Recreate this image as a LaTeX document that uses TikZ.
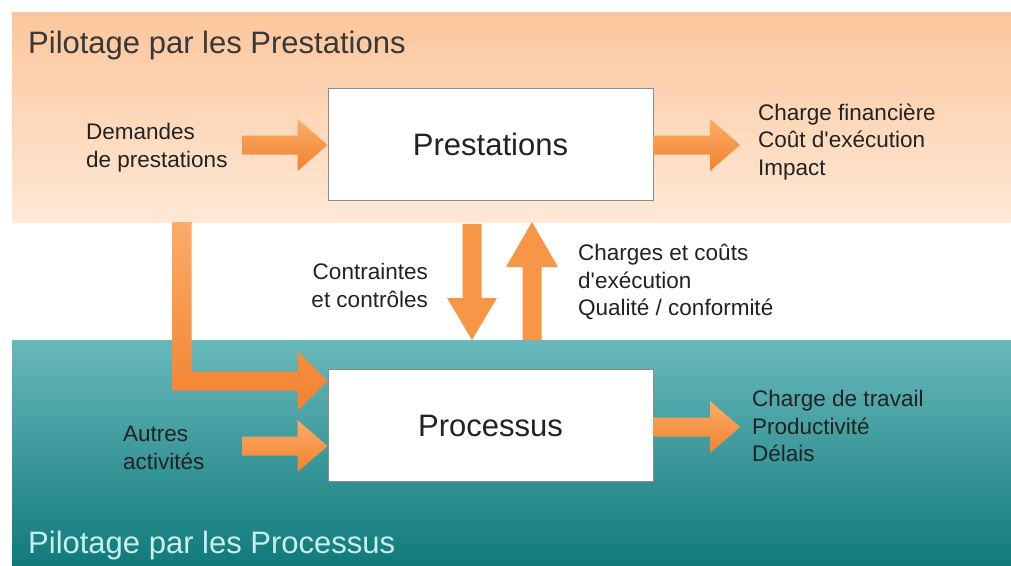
\documentclass[tikz,border=0pt]{standalone}
\usepackage{fontspec}
\setmainfont{Liberation Sans}
\usetikzlibrary{calc}

\definecolor{bandOrTop}{RGB}{251,198,156}
\definecolor{bandOrBot}{RGB}{254,233,214}
\definecolor{bandTeTop}{RGB}{104,184,188}
\definecolor{bandTeBot}{RGB}{17,122,122}
\definecolor{arrLight}{RGB}{251,172,104}
\definecolor{arrDark}{RGB}{242,130,46}
\definecolor{arrSide}{RGB}{248,150,72}
\definecolor{arrCore}{RGB}{238,116,28}
\definecolor{boxLine}{RGB}{140,140,140}
\definecolor{txtDark}{RGB}{34,34,34}
\definecolor{txtTeal}{RGB}{200,238,238}

\tikzset{
  procbox/.style={draw=boxLine, line width=0.9pt, fill=white,
    minimum width=325pt, minimum height=112pt, inner sep=0pt,
    font=\fontsize{31}{36}\selectfont, text=txtDark},
  label/.style={inner sep=0pt, text=txtDark, font=\fontsize{22.5}{27.5}\selectfont},
  bandtitle/.style={inner sep=0pt, anchor=base west, font=\fontsize{31}{35}\selectfont},
  harrow/.style={top color=arrLight, bottom color=arrDark, draw=none},
  varrow/.style={left color=arrSide, middle color=arrCore, right color=arrSide, draw=none},
}

% block arrows between named points
\newcommand{\rightblock}[2]{%
  \path[harrow] let \p1=(#1), \p2=(#2) in
    (\x1,\y1+9.5pt) -- (\x2-30pt,\y1+9.5pt) -- (\x2-30pt,\y1+26pt) -- (\x2,\y1)
    -- (\x2-30pt,\y1-26pt) -- (\x2-30pt,\y1-9.5pt) -- (\x1,\y1-9.5pt) -- cycle;}
\newcommand{\downblock}[2]{%
  \path[varrow] let \p1=(#1), \p2=(#2) in
    (\x1-9.5pt,\y1) -- (\x1-9.5pt,\y2+42pt) -- (\x1-25pt,\y2+42pt) -- (\x1,\y2)
    -- (\x1+25pt,\y2+42pt) -- (\x1+9.5pt,\y2+42pt) -- (\x1+9.5pt,\y1) -- cycle;}
\newcommand{\upblock}[2]{%
  \path[varrow] let \p1=(#1), \p2=(#2) in
    (\x1-9.5pt,\y1) -- (\x1-9.5pt,\y2-45pt) -- (\x1-26pt,\y2-45pt) -- (\x1,\y2)
    -- (\x1+26pt,\y2-45pt) -- (\x1+9.5pt,\y2-45pt) -- (\x1+9.5pt,\y1) -- cycle;}

\begin{document}
\begin{tikzpicture}[x=1pt, y=-1pt]
  \useasboundingbox (0,0) rectangle (1011,565);
  \fill[white] (0,0) rectangle (1011,565);

  % the two bands
  \path[top color=bandOrTop, bottom color=bandOrBot] (12,12) rectangle (1011,222);
  \path[top color=bandTeTop, bottom color=bandTeBot] (12,340) rectangle (1011,565);

  \node[bandtitle, text=txtDark!90] (ttop) at (28,53) {Pilotage par les Prestations};
  \node[bandtitle, text=txtTeal] (tbot) at (28,553) {Pilotage par les Processus};

  % the two boxes
  \node[procbox] (prest) at (490.5,144) {Prestations};
  \node[procbox] (proc) at (490.5,425.5) {Processus};

  % arrow ends
  \coordinate (demIn) at (242,145);
  \coordinate (prestOut) at (740,145);
  \coordinate (downTop) at (472,224);
  \coordinate (downTip) at (472,340);
  \coordinate (upFoot) at (532,340);
  \coordinate (upTip) at (532,222);
  \coordinate (lStart) at (182,222);
  \coordinate (lCorner) at (182,381);
  \coordinate (autIn) at (242,446);
  \coordinate (procOut) at (740,427);

  \rightblock{demIn}{demIn -| prest.west}
  \path[harrow] let \p1=(prest.east), \p2=(prestOut) in
    (\x1,\y2+9.5pt) -- (\x2-30pt,\y2+9.5pt) -- (\x2-30pt,\y2+26pt) -- (\x2,\y2)
    -- (\x2-30pt,\y2-26pt) -- (\x2-30pt,\y2-9.5pt) -- (\x1,\y2-9.5pt) -- cycle;
  \downblock{downTop}{downTip}
  \upblock{upFoot}{upTip}
  \rightblock{autIn}{autIn -| proc.west}
  \path[harrow] let \p1=(proc.east), \p2=(procOut) in
    (\x1,\y2+9.5pt) -- (\x2-30pt,\y2+9.5pt) -- (\x2-30pt,\y2+26pt) -- (\x2,\y2)
    -- (\x2-30pt,\y2-26pt) -- (\x2-30pt,\y2-9.5pt) -- (\x1,\y2-9.5pt) -- cycle;

  % bent arrow from the demands down to the processes
  \path[top color=arrLight, bottom color=arrDark]
    let \p1=(lStart), \p2=(lCorner), \p3=(lCorner -| proc.west) in
    (\x1-9.5pt,\y1) -- (\x1-9.5pt,\y2-9.5pt) -- (\x3-30pt,\y2-9.5pt) -- (\x3-30pt,\y2-30pt)
    -- (\x3,\y2) -- (\x3-30pt,\y2+30pt) -- (\x3-30pt,\y2+9.5pt) -- (\x1+9.5pt,\y2+9.5pt)
    -- (\x1+9.5pt,\y1) -- cycle;

  % labels
  \node[label, anchor=west, align=left] (dem) at (86,147.5) {Demandes\\de prestations};
  \node[label, anchor=west, align=left] (fin) at (758,142) {Charge financière\\Coût d\textquotesingle exécution\\Impact};
  \node[label, anchor=east, align=right] (contr) at (428,285.5) {Contraintes\\et contrôles};
  \node[label, anchor=west, align=left] (couts) at (578,282) {Charges et coûts\\d\textquotesingle exécution\\Qualité / conformité};
  \node[label, anchor=west, align=left] (aut) at (123,448) {Autres\\activités};
  \node[label, anchor=west, align=left] (trav) at (752,426) {Charge de travail\\Productivité\\Délais};
\end{tikzpicture}
\end{document}
